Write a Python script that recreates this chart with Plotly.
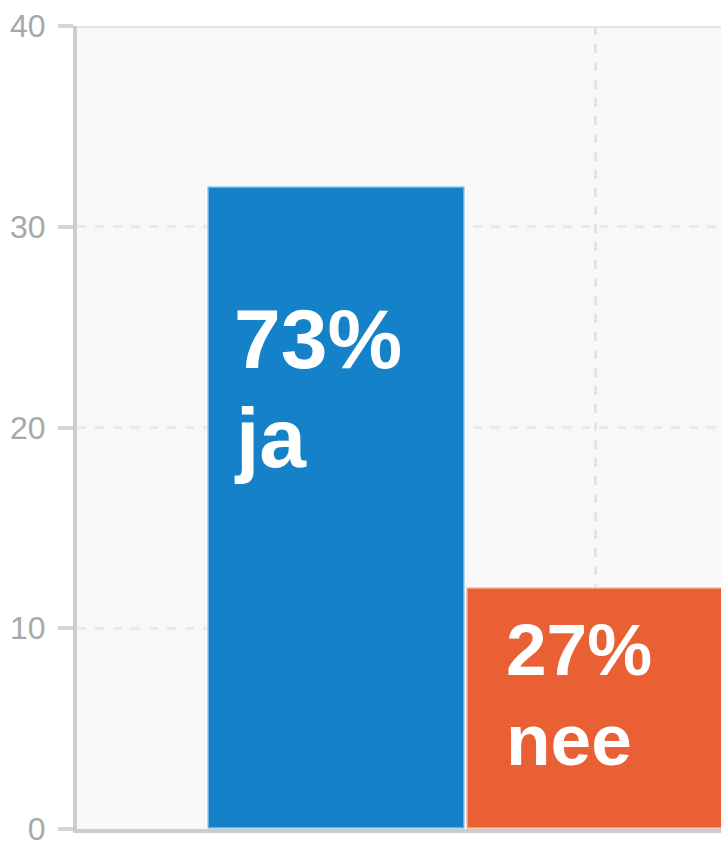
import plotly.graph_objects as go

# ---- data ----
categories = ["ja", "nee"]
counts = [32, 12]
percent_labels = ["73%", "27%"]
bar_colors = ["#1581c8", "#e86034"]

y_ticks = [0, 10, 20, 30, 40]
y_range = [0, 40]

# ---- style ----
FONT = "Liberation Sans, Arial, sans-serif"
bar_width = 0.992
label_font_sizes = [84, 73]
label_xshift = [24, 37]                # px from bar's left edge
pct_y = [24.43, 8.93]                  # label vertical placement (data units)
name_y = [19.50, 4.44]
x_grid_at = [1]                        # only the second category's gridline is visible

x_idx = list(range(len(categories)))

fig = go.Figure()
fig.add_trace(go.Bar(
    x=x_idx, y=counts, width=bar_width,
    marker=dict(color=bar_colors, line=dict(color="rgba(255,255,255,0.38)", width=3)),
    hoverinfo="skip", showlegend=False,
))

annotations = []
for i, (pct, name) in enumerate(zip(percent_labels, categories)):
    left = x_idx[i] - bar_width / 2
    for txt, yy in ((pct, pct_y[i]), (name, name_y[i])):
        annotations.append(dict(
            x=left, y=yy, xref="x", yref="y", text="<b>" + txt + "</b>", showarrow=False,
            xanchor="left", yanchor="middle", xshift=label_xshift[i],
            font=dict(family=FONT, size=label_font_sizes[i], color="white"),
        ))

fig.update_layout(
    width=721, height=841,
    margin=dict(l=77, r=0, t=26, b=12, pad=0, autoexpand=False),
    paper_bgcolor="white",
    plot_bgcolor="#f8f8f8",
    bargap=0,
    annotations=annotations,
    shapes=[dict(type="line", xref="paper", yref="y", x0=0, x1=1, y0=y_range[1], y1=y_range[1],
                 line=dict(color="#e6e6e6", width=4), layer="above")],
)
fig.update_xaxes(
    range=[(77 - 336.5) / 259, (721 - 336.5) / 259],
    tickvals=x_grid_at, showticklabels=False, ticks="",
    showgrid=True, gridcolor="#e4e4e4", gridwidth=3, griddash="dash",
    showline=True, linecolor="#cccccc", linewidth=4,
    zeroline=False, fixedrange=True, automargin=False,
)
fig.update_yaxes(
    range=y_range, tickvals=y_ticks,
    showgrid=True, gridcolor="#e9e9e9", gridwidth=3, griddash="dash",
    showline=True, linecolor="#cccccc", linewidth=4,
    ticks="outside", ticklen=15, tickwidth=4, tickcolor="#d4d4d4",
    tickfont=dict(family=FONT, size=32, color="#a8a8a8"),
    ticklabelstandoff=6, ticklabeloverflow="allow",
    zeroline=False, fixedrange=True, automargin=False,
)

fig.write_html("out.html", config={"displayModeBar": False},
               post_script="document.body.style.margin='0';document.body.style.overflow='hidden';")
